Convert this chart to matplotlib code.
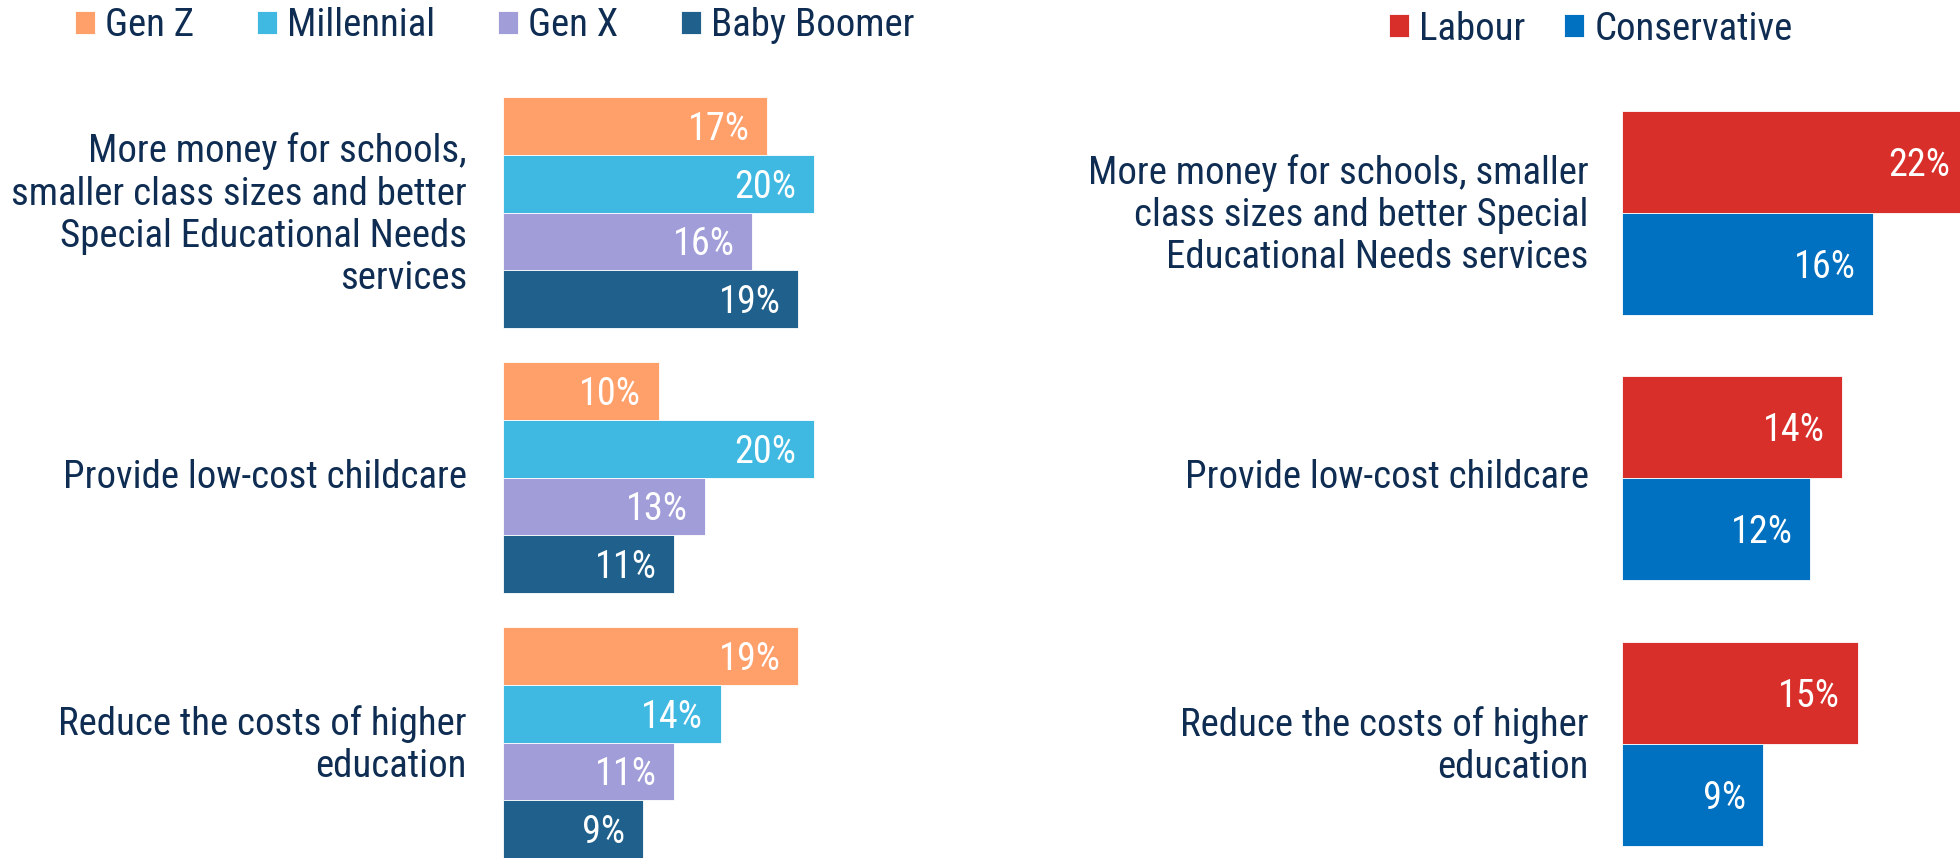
import matplotlib
matplotlib.use("Agg")
import matplotlib.pyplot as plt
from matplotlib import font_manager as fm
from matplotlib.transforms import ScaledTranslation
import numpy as np

# ---------------- data ----------------
gen_series = ["Gen Z", "Millennial", "Gen X", "Baby Boomer"]
gen_categories = [
    "More money for schools,\nsmaller class sizes and better\nSpecial Educational Needs\nservices",
    "Provide low-cost childcare",
    "Reduce the costs of higher\neducation",
]
gen_z = [17, 10, 19]
millennial = [20, 20, 14]
gen_x = [16, 13, 11]
baby_boomer = [19, 11, 9]

party_series = ["Labour", "Conservative"]
party_categories = [
    "More money for schools, smaller\nclass sizes and better Special\nEducational Needs services",
    "Provide low-cost childcare",
    "Reduce the costs of higher\neducation",
]
labour = [22, 14, 15]
conservative = [16, 12, 9]

# ---------------- style ----------------
gen_colors = ["#FF9F6A", "#3FB9E2", "#A19DD9", "#1F618C"]
party_colors = ["#D92F2B", "#0070C0"]
NAVY = "#0F2D52"


def pick(fams):
    for f in fams:
        try:
            fm.findfont(fm.FontProperties(family=f), fallback_to_default=False)
            return f
        except Exception:
            pass
    return "DejaVu Sans"


FONT = pick(["Roboto Condensed", "Liberation Sans Narrow", "Liberation Sans", "Roboto"])
plt.rcParams["font.family"] = [FONT, "DejaVu Sans"]

W, H = 1960, 858
fig = plt.figure(figsize=(W / 100, H / 100), dpi=100)

FS = 28
VFS = 27.5
LS = 1.18


def px_axes(x0, y_top, x1, y_bot):
    return fig.add_axes([x0 / W, 1 - y_bot / H, (x1 - x0) / W, (y_bot - y_top) / H])


def style(ax):
    for s in ax.spines.values():
        s.set_visible(False)
    ax.set_xticks([])
    ax.tick_params(axis="y", length=0, colors=NAVY, labelsize=FS)


def value_labels(ax, vals, ys):
    for v, y in zip(vals, ys):
        ax.annotate(f"{v}%", xy=(v, y), xytext=(-12.5, -10.0), textcoords="offset points",
                    ha="right", va="baseline", color="white", fontsize=VFS,
                    annotation_clip=False)


def lift_labels(ax, pts):
    off = ScaledTranslation(0, pts / 72, fig.dpi_scale_trans)
    for lbl in ax.get_yticklabels():
        lbl.set_transform(lbl.get_transform() + off)


# ---------------- left panel ----------------
axL = px_axes(503, 97.3, 503 + 25 * 15.55, 858)
style(axL)
hL = 0.2175
axL.set_xlim(0, 25)
axL.set_ylim(2 + 2 * hL, -2 * hL)
y = np.arange(len(gen_categories))
gen_vals = [gen_z, millennial, gen_x, baby_boomer]
handlesL = []
for i, (vals, c, name) in enumerate(zip(gen_vals, gen_colors, gen_series)):
    yy = y + (i - 1.5) * hL
    b = axL.barh(yy, vals, height=hL, color=c, edgecolor="white", linewidth=0.6, label=name)
    handlesL.append(b)
    value_labels(axL, vals, yy)
axL.set_yticks(y)
axL.set_yticklabels(gen_categories, linespacing=LS, ha="right")
axL.tick_params(axis="y", pad=26)
lift_labels(axL, 3.2)

fig.legend(handles=handlesL, labels=gen_series, loc="center left",
           bbox_to_anchor=(75 / W, 1 - 26 / H), ncol=4, frameon=False,
           fontsize=FS, labelcolor=NAVY, handlelength=0.52, handleheight=0.52,
           handletextpad=0.25, columnspacing=1.62, borderpad=0, borderaxespad=0)

# ---------------- right panel ----------------
axR = px_axes(1622, 111, 1960, 858)
style(axR)
hR = 0.3844
axR.set_xlim(0, 338 / 15.7)
yR = np.arange(len(party_categories))
bottom_unit = 2 + (858 - 743.7) / 265.35
axR.set_ylim(bottom_unit, -hR)
party_vals = [labour, conservative]
handlesR = []
for i, (vals, c, name) in enumerate(zip(party_vals, party_colors, party_series)):
    yy = yR + (i - 0.5) * hR
    b = axR.barh(yy, vals, height=hR, color=c, edgecolor="white", linewidth=0.6, label=name)
    handlesR.append(b)
    value_labels(axR, vals, yy)
axR.set_yticks(yR)
axR.set_yticklabels(party_categories, linespacing=LS, ha="right")
axR.tick_params(axis="y", pad=24)
lift_labels(axR, 3.2)

fig.legend(handles=handlesR, labels=party_series, loc="center left",
           bbox_to_anchor=(1389 / W, 1 - 29 / H), ncol=2, frameon=False,
           fontsize=FS, labelcolor=NAVY, handlelength=0.52, handleheight=0.52,
           handletextpad=0.25, columnspacing=1.0, borderpad=0, borderaxespad=0)

fig.savefig("out.png", dpi=100)
